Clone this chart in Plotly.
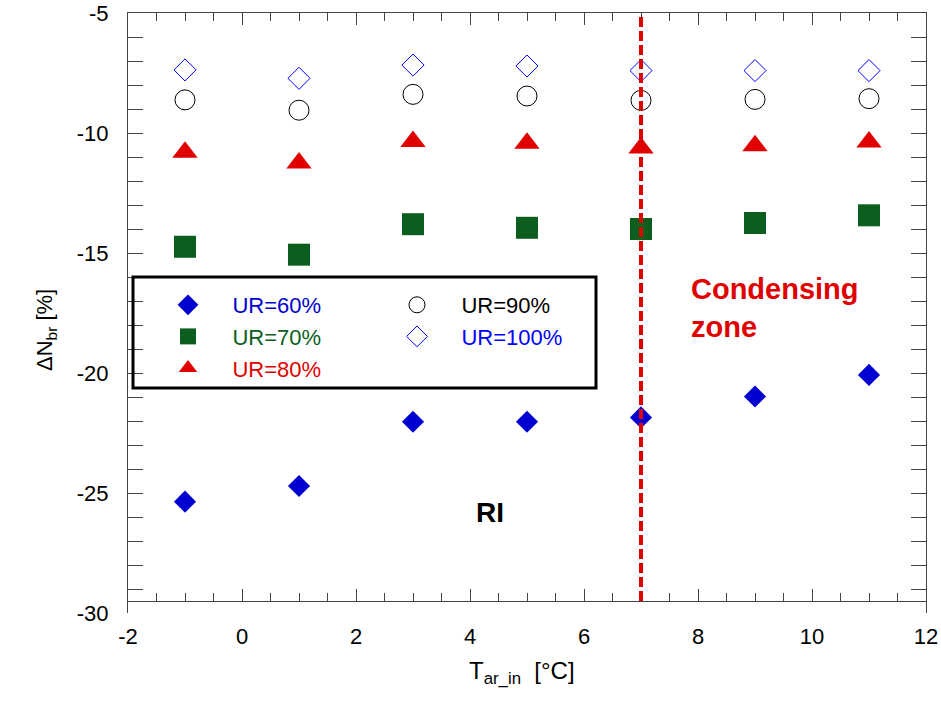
import plotly.graph_objects as go

# ---- data ----
t_in = [-1, 1, 3, 5, 7, 9, 11]
ur60 = [-25.36, -24.71, -22.03, -22.03, -21.85, -20.98, -20.08]
ur70 = [-14.74, -15.07, -13.80, -13.95, -14.00, -13.75, -13.43]
ur80 = [-10.80, -11.25, -10.35, -10.43, -10.63, -10.53, -10.38]
ur90 = [-8.62, -9.05, -8.39, -8.46, -8.64, -8.60, -8.57]
ur100 = [-7.37, -7.72, -7.17, -7.21, -7.40, -7.40, -7.40]
series_names = ["UR=60%", "UR=70%", "UR=80%", "UR=90%", "UR=100%"]
x_ticks = [-2, 0, 2, 4, 6, 8, 10, 12]
y_ticks = [-30, -25, -20, -15, -10, -5]
condensing_start = 7

FONT = "Liberation Sans, Arial, sans-serif"
BLUE = "#0000d0"
GREEN = "#0b5e1e"
RED = "#e00000"
AX = "#444444"
NB = "&nbsp;" * 4

fig = go.Figure()

styles = [
    (ur60, series_names[0], dict(symbol="diamond", size=17, color=BLUE), BLUE, "legend"),
    (ur70, series_names[1], dict(symbol="square", size=22, color=GREEN), GREEN, "legend"),
    (ur80, series_names[2], dict(symbol="triangle-up", size=22, color=RED), RED, "legend"),
    (ur90, series_names[3], dict(symbol="circle-open", size=20, color="black", line=dict(width=1, color="black")), "black", "legend2"),
    (ur100, series_names[4], dict(symbol="diamond-open", size=17, color="#0000ff", line=dict(width=1, color="#0000ff")), "#0000ff", "legend2"),
]
for vals, name, mk, tc, lg in styles:
    fig.add_trace(go.Scatter(
        x=t_in, y=vals, mode="markers", marker=mk,
        name=f"{NB}<span style='color:{tc}'>{name}</span>",
        legend=lg,
    ))

# invisible trace for top mirror axis
fig.add_trace(go.Scatter(x=[t_in[0]], y=[ur60[0]], xaxis="x2", mode="markers",
                         marker=dict(opacity=0), showlegend=False, hoverinfo="skip"))

# condensing-zone boundary
fig.add_shape(type="line", x0=condensing_start, x1=condensing_start, y0=-29.5, y1=-5,
              xref="x", yref="y", line=dict(color=RED, width=4, dash="10px,4px"), layer="above")

# legend frame
fig.add_shape(type="rect", xref="paper", yref="paper",
              x0=(133 - 128) / 798, x1=(596 - 128) / 798,
              y0=1 - (388 - 13) / 600, y1=1 - (277 - 13) / 600,
              line=dict(color="black", width=3), layer="above")

fig.add_annotation(x=7.85, y=-17.3, xref="x", yref="y", xanchor="left", yanchor="middle",
                   text="<b>Condensing<br>zone</b>", showarrow=False, align="left",
                   font=dict(family=FONT, size=29, color=RED))
fig.add_annotation(x=4.35, y=-25.8, xref="x", yref="y", text="<b>RI</b>", showarrow=False,
                   font=dict(family=FONT, size=28, color="black"))

fig.add_annotation(x=(522 - 128) / 798, y=(613 - 690) / 600, xref="paper", yref="paper",
                   text="T<sub>ar_in</sub>&nbsp;&nbsp;[°C]", showarrow=False,
                   font=dict(family=FONT, size=24, color="black"))
fig.add_annotation(x=(30 - 128) / 798, y=(613 - 330) / 600, xref="paper", yref="paper",
                   text="ΔN<sub>br</sub> [%]", showarrow=False, textangle=-90,
                   font=dict(family=FONT, size=22, color="black"))

legend_common = dict(orientation="v", xanchor="left", yanchor="top",
                     bgcolor="rgba(0,0,0,0)", borderwidth=0,
                     font=dict(family=FONT, size=22))

fig.update_layout(
    width=941, height=724,
    margin=dict(l=128, r=15, t=13, b=111, autoexpand=False),
    paper_bgcolor="white", plot_bgcolor="white",
    font=dict(family=FONT, size=22, color="black"),
    showlegend=True,
    legend=dict(x=(168 - 128) / 798, y=1 - (284 - 13) / 600, **legend_common),
    legend2=dict(x=(397 - 128) / 798, y=1 - (284 - 13) / 600, **legend_common),
    xaxis=dict(range=[-2, 12], tickvals=x_ticks, ticktext=[str(v) for v in x_ticks],
               anchor="free", position=0.02, showline=True, linecolor=AX, linewidth=1,
               ticks="inside", ticklen=12, tickcolor=AX, showgrid=False, zeroline=False,
               ticklabelstandoff=16, automargin=False,
               minor=dict(dtick=0.5, ticks="inside", ticklen=8, tickcolor=AX),
               tickfont=dict(family=FONT, size=22)),
    xaxis2=dict(range=[-2, 12], overlaying="x", side="top", anchor="y", matches="x",
                showline=True, linecolor=AX, linewidth=1, ticks="inside", ticklen=12,
                tickcolor=AX, showticklabels=False, showgrid=False, zeroline=False,
                tickvals=x_ticks, automargin=False,
                minor=dict(dtick=0.5, ticks="inside", ticklen=8, tickcolor=AX)),
    yaxis=dict(range=[-30, -5], tickvals=y_ticks, ticktext=[str(v) for v in y_ticks],
               showline=True, linecolor=AX, linewidth=1, mirror="allticks",
               ticks="inside", ticklen=15, tickcolor=AX, showgrid=False, zeroline=False,
               ticklabelstandoff=14, automargin=False,
               minor=dict(dtick=1, ticks="inside", ticklen=8, tickcolor=AX),
               tickfont=dict(family=FONT, size=22)),
)

fig.write_html("out.html")
